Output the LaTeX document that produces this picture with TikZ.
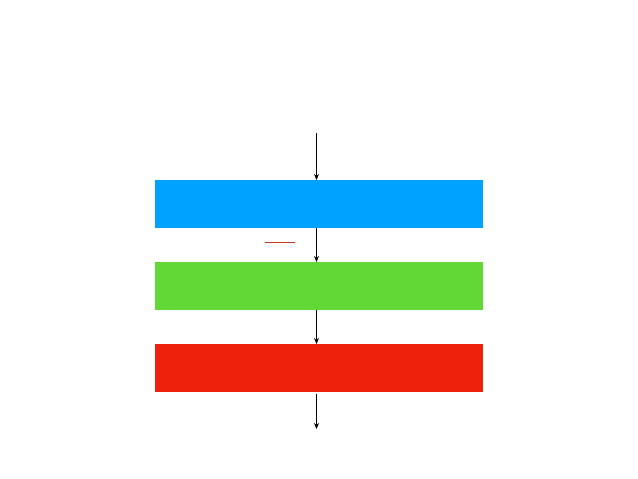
\documentclass[tikz,border=0pt]{standalone}
\usetikzlibrary{arrows.meta}
\definecolor{cblue}{HTML}{00A2FF}
\definecolor{cgreen}{HTML}{61D836}
\definecolor{cred}{HTML}{EE220C}
\definecolor{cdark}{HTML}{C0392B}
\begin{document}
\begin{tikzpicture}[x=1pt,y=-1pt,
  bar/.style={minimum width=328pt,minimum height=48pt,inner sep=0pt,outer sep=0pt,draw=none},
  flow/.style={draw=black,line width=0.8pt,-{Stealth[length=6pt,width=5pt]}}]
\useasboundingbox[fill=white] (0,0) rectangle (638,479);
\node[bar,fill=cblue]  (b) at (319,204) {};
\node[bar,fill=cgreen] (g) at (319,286) {};
\node[bar,fill=cred]   (r) at (319,368) {};
\coordinate (top) at (316.5,133);
\coordinate (bot) at (316.5,429);
\coordinate (rbot) at (316.5,394);
\coordinate (l1) at (265,242);
\coordinate (l2) at (295,242);
\draw[flow] (top) -- (top |- b.north);
\draw[flow] (top |- b.south) -- (top |- g.north);
\draw[flow] (top |- g.south) -- (top |- r.north);
\draw[flow] (rbot) -- (bot);
\draw[cdark,line width=0.8pt] (l1) -- (l2);
\end{tikzpicture}
\end{document}
